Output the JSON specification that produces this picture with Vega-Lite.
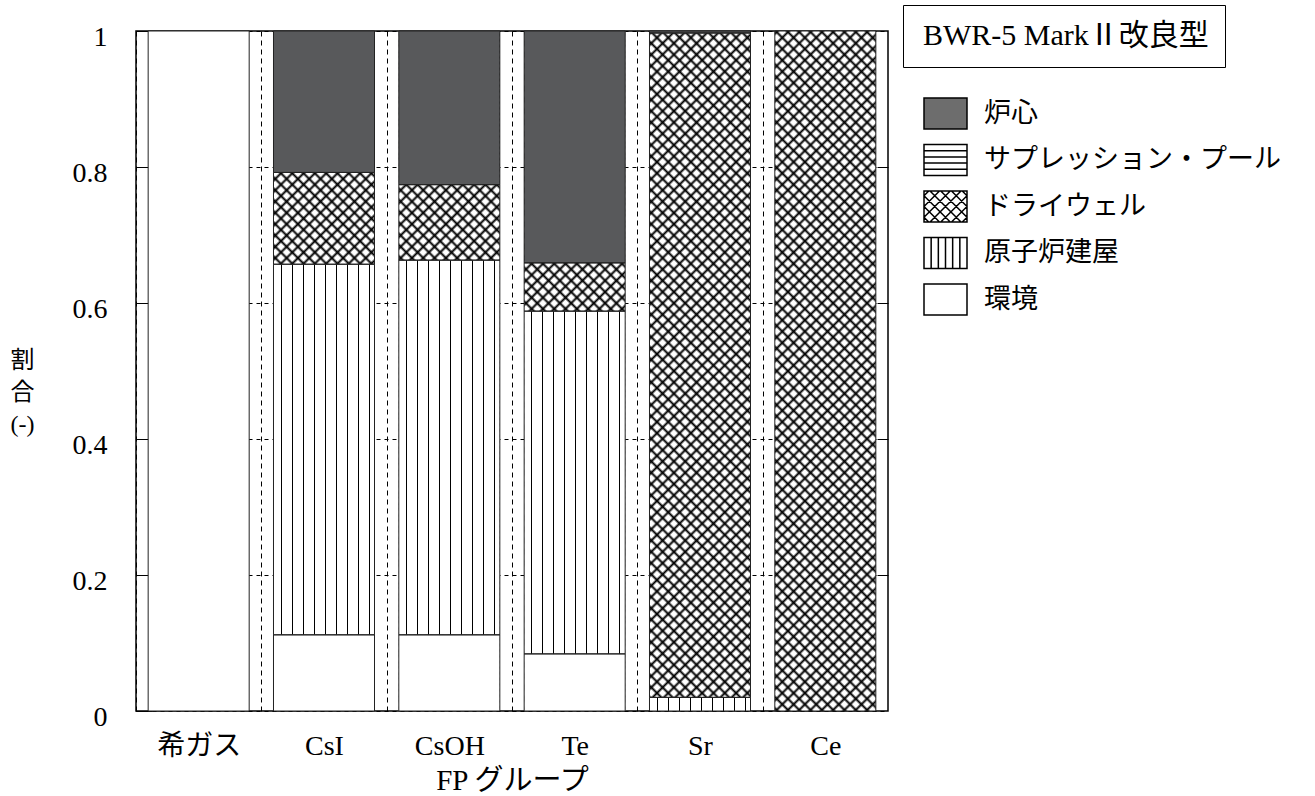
{
"$schema": "https://vega.github.io/schema/vega-lite/v6.json",
"width": 752, "height": 680,
"autosize": {"type": "none"},
"padding": {"left": 136, "top": 31, "right": 427, "bottom": 85},
"background": "white",
"config": {
  "font": "Liberation Serif, Noto Sans CJK JP",
  "view": {"stroke": "#000", "strokeWidth": 1.5},
  "axis": {"labelFont": "Liberation Serif, Noto Sans CJK JP", "titleFont": "Liberation Serif, Noto Sans CJK JP", "labelColor": "#000", "titleColor": "#000", "titleFontWeight": "normal"},
  "legend": {"labelFont": "Liberation Serif, Noto Sans CJK JP", "labelColor": "#000", "labelLimit": 600}
},
"data": {"values": [
  {"cat": "希ガス", "comp": "環境", "v": 1},
  {"cat": "CsI", "comp": "環境", "v": 0.112},
  {"cat": "CsI", "comp": "原子炉建屋", "v": 0.545},
  {"cat": "CsI", "comp": "ドライウェル", "v": 0.135},
  {"cat": "CsI", "comp": "炉心", "v": 0.208},
  {"cat": "CsOH", "comp": "環境", "v": 0.112},
  {"cat": "CsOH", "comp": "原子炉建屋", "v": 0.551},
  {"cat": "CsOH", "comp": "ドライウェル", "v": 0.111},
  {"cat": "CsOH", "comp": "炉心", "v": 0.226},
  {"cat": "Te", "comp": "環境", "v": 0.084},
  {"cat": "Te", "comp": "原子炉建屋", "v": 0.504},
  {"cat": "Te", "comp": "ドライウェル", "v": 0.071},
  {"cat": "Te", "comp": "炉心", "v": 0.341},
  {"cat": "Sr", "comp": "原子炉建屋", "v": 0.02},
  {"cat": "Sr", "comp": "ドライウェル", "v": 0.977},
  {"cat": "Sr", "comp": "炉心", "v": 0.003},
  {"cat": "Ce", "comp": "ドライウェル", "v": 1}
]},
"transform": [{"stack": "v", "groupby": ["cat"], "as": ["y0", "y1"]}],
"layer": [
  {
    "transform": [{"filter": "datum.comp === 'ドライウェル'"}],
    "mark": {"type": "bar", "fill": "#fff"},
    "encoding": {
      "x": {"field": "cat", "type": "nominal", "scale": {"domain": ["希ガス", "CsI", "CsOH", "Te", "Sr", "Ce"], "paddingInner": 0.194, "paddingOuter": 0.097}},
      "y": {"datum": 0, "type": "quantitative", "axis": null},
      "y2": {"datum": 1}
    }
  },
  {
    "transform": [{"filter": "datum.comp === 'ドライウェル'"}],
    "mark": {"type": "bar", "fill": {"gradient": "linear", "x1": 0, "y1": 0, "x2": 0.24149, "y2": 1.62588, "stops": [
{"offset":0,"color":"transparent"},{"offset":0.0025,"color":"#000"},{"offset":0.005,"color":"transparent"},
{"offset":0.01,"color":"transparent"},{"offset":0.0125,"color":"#000"},{"offset":0.015,"color":"transparent"},
{"offset":0.02,"color":"transparent"},{"offset":0.0225,"color":"#000"},{"offset":0.025,"color":"transparent"},
{"offset":0.03,"color":"transparent"},{"offset":0.0325,"color":"#000"},{"offset":0.035,"color":"transparent"},
{"offset":0.04,"color":"transparent"},{"offset":0.0425,"color":"#000"},{"offset":0.045,"color":"transparent"},
{"offset":0.05,"color":"transparent"},{"offset":0.0525,"color":"#000"},{"offset":0.055,"color":"transparent"},
{"offset":0.06,"color":"transparent"},{"offset":0.0625,"color":"#000"},{"offset":0.065,"color":"transparent"},
{"offset":0.07,"color":"transparent"},{"offset":0.0725,"color":"#000"},{"offset":0.075,"color":"transparent"},
{"offset":0.08,"color":"transparent"},{"offset":0.0825,"color":"#000"},{"offset":0.085,"color":"transparent"},
{"offset":0.09,"color":"transparent"},{"offset":0.0925,"color":"#000"},{"offset":0.095,"color":"transparent"},
{"offset":0.1,"color":"transparent"},{"offset":0.1025,"color":"#000"},{"offset":0.105,"color":"transparent"},
{"offset":0.11,"color":"transparent"},{"offset":0.1125,"color":"#000"},{"offset":0.115,"color":"transparent"},
{"offset":0.12,"color":"transparent"},{"offset":0.1225,"color":"#000"},{"offset":0.125,"color":"transparent"},
{"offset":0.13,"color":"transparent"},{"offset":0.1325,"color":"#000"},{"offset":0.135,"color":"transparent"},
{"offset":0.14,"color":"transparent"},{"offset":0.1425,"color":"#000"},{"offset":0.145,"color":"transparent"},
{"offset":0.15,"color":"transparent"},{"offset":0.1525,"color":"#000"},{"offset":0.155,"color":"transparent"},
{"offset":0.16,"color":"transparent"},{"offset":0.1625,"color":"#000"},{"offset":0.165,"color":"transparent"},
{"offset":0.17,"color":"transparent"},{"offset":0.1725,"color":"#000"},{"offset":0.175,"color":"transparent"},
{"offset":0.18,"color":"transparent"},{"offset":0.1825,"color":"#000"},{"offset":0.185,"color":"transparent"},
{"offset":0.19,"color":"transparent"},{"offset":0.1925,"color":"#000"},{"offset":0.195,"color":"transparent"},
{"offset":0.2,"color":"transparent"},{"offset":0.2025,"color":"#000"},{"offset":0.205,"color":"transparent"},
{"offset":0.21,"color":"transparent"},{"offset":0.2125,"color":"#000"},{"offset":0.215,"color":"transparent"},
{"offset":0.22,"color":"transparent"},{"offset":0.2225,"color":"#000"},{"offset":0.225,"color":"transparent"},
{"offset":0.23,"color":"transparent"},{"offset":0.2325,"color":"#000"},{"offset":0.235,"color":"transparent"},
{"offset":0.24,"color":"transparent"},{"offset":0.2425,"color":"#000"},{"offset":0.245,"color":"transparent"},
{"offset":0.25,"color":"transparent"},{"offset":0.2525,"color":"#000"},{"offset":0.255,"color":"transparent"},
{"offset":0.26,"color":"transparent"},{"offset":0.2625,"color":"#000"},{"offset":0.265,"color":"transparent"},
{"offset":0.27,"color":"transparent"},{"offset":0.2725,"color":"#000"},{"offset":0.275,"color":"transparent"},
{"offset":0.28,"color":"transparent"},{"offset":0.2825,"color":"#000"},{"offset":0.285,"color":"transparent"},
{"offset":0.29,"color":"transparent"},{"offset":0.2925,"color":"#000"},{"offset":0.295,"color":"transparent"},
{"offset":0.3,"color":"transparent"},{"offset":0.3025,"color":"#000"},{"offset":0.305,"color":"transparent"},
{"offset":0.31,"color":"transparent"},{"offset":0.3125,"color":"#000"},{"offset":0.315,"color":"transparent"},
{"offset":0.32,"color":"transparent"},{"offset":0.3225,"color":"#000"},{"offset":0.325,"color":"transparent"},
{"offset":0.33,"color":"transparent"},{"offset":0.3325,"color":"#000"},{"offset":0.335,"color":"transparent"},
{"offset":0.34,"color":"transparent"},{"offset":0.3425,"color":"#000"},{"offset":0.345,"color":"transparent"},
{"offset":0.35,"color":"transparent"},{"offset":0.3525,"color":"#000"},{"offset":0.355,"color":"transparent"},
{"offset":0.36,"color":"transparent"},{"offset":0.3625,"color":"#000"},{"offset":0.365,"color":"transparent"},
{"offset":0.37,"color":"transparent"},{"offset":0.3725,"color":"#000"},{"offset":0.375,"color":"transparent"},
{"offset":0.38,"color":"transparent"},{"offset":0.3825,"color":"#000"},{"offset":0.385,"color":"transparent"},
{"offset":0.39,"color":"transparent"},{"offset":0.3925,"color":"#000"},{"offset":0.395,"color":"transparent"},
{"offset":0.4,"color":"transparent"},{"offset":0.4025,"color":"#000"},{"offset":0.405,"color":"transparent"},
{"offset":0.41,"color":"transparent"},{"offset":0.4125,"color":"#000"},{"offset":0.415,"color":"transparent"},
{"offset":0.42,"color":"transparent"},{"offset":0.4225,"color":"#000"},{"offset":0.425,"color":"transparent"},
{"offset":0.43,"color":"transparent"},{"offset":0.4325,"color":"#000"},{"offset":0.435,"color":"transparent"},
{"offset":0.44,"color":"transparent"},{"offset":0.4425,"color":"#000"},{"offset":0.445,"color":"transparent"},
{"offset":0.45,"color":"transparent"},{"offset":0.4525,"color":"#000"},{"offset":0.455,"color":"transparent"},
{"offset":0.46,"color":"transparent"},{"offset":0.4625,"color":"#000"},{"offset":0.465,"color":"transparent"},
{"offset":0.47,"color":"transparent"},{"offset":0.4725,"color":"#000"},{"offset":0.475,"color":"transparent"},
{"offset":0.48,"color":"transparent"},{"offset":0.4825,"color":"#000"},{"offset":0.485,"color":"transparent"},
{"offset":0.49,"color":"transparent"},{"offset":0.4925,"color":"#000"},{"offset":0.495,"color":"transparent"},
{"offset":0.5,"color":"transparent"},{"offset":0.5025,"color":"#000"},{"offset":0.505,"color":"transparent"},
{"offset":0.51,"color":"transparent"},{"offset":0.5125,"color":"#000"},{"offset":0.515,"color":"transparent"},
{"offset":0.52,"color":"transparent"},{"offset":0.5225,"color":"#000"},{"offset":0.525,"color":"transparent"},
{"offset":0.53,"color":"transparent"},{"offset":0.5325,"color":"#000"},{"offset":0.535,"color":"transparent"},
{"offset":0.54,"color":"transparent"},{"offset":0.5425,"color":"#000"},{"offset":0.545,"color":"transparent"},
{"offset":0.55,"color":"transparent"},{"offset":0.5525,"color":"#000"},{"offset":0.555,"color":"transparent"},
{"offset":0.56,"color":"transparent"},{"offset":0.5625,"color":"#000"},{"offset":0.565,"color":"transparent"},
{"offset":0.57,"color":"transparent"},{"offset":0.5725,"color":"#000"},{"offset":0.575,"color":"transparent"},
{"offset":0.58,"color":"transparent"},{"offset":0.5825,"color":"#000"},{"offset":0.585,"color":"transparent"},
{"offset":0.59,"color":"transparent"},{"offset":0.5925,"color":"#000"},{"offset":0.595,"color":"transparent"},
{"offset":0.6,"color":"transparent"},{"offset":0.6025,"color":"#000"},{"offset":0.605,"color":"transparent"},
{"offset":0.61,"color":"transparent"},{"offset":0.6125,"color":"#000"},{"offset":0.615,"color":"transparent"},
{"offset":0.62,"color":"transparent"},{"offset":0.6225,"color":"#000"},{"offset":0.625,"color":"transparent"},
{"offset":0.63,"color":"transparent"},{"offset":0.6325,"color":"#000"},{"offset":0.635,"color":"transparent"},
{"offset":0.64,"color":"transparent"},{"offset":0.6425,"color":"#000"},{"offset":0.645,"color":"transparent"},
{"offset":0.65,"color":"transparent"},{"offset":0.6525,"color":"#000"},{"offset":0.655,"color":"transparent"},
{"offset":0.66,"color":"transparent"},{"offset":0.6625,"color":"#000"},{"offset":0.665,"color":"transparent"},
{"offset":0.67,"color":"transparent"},{"offset":0.6725,"color":"#000"},{"offset":0.675,"color":"transparent"},
{"offset":0.68,"color":"transparent"},{"offset":0.6825,"color":"#000"},{"offset":0.685,"color":"transparent"},
{"offset":0.69,"color":"transparent"},{"offset":0.6925,"color":"#000"},{"offset":0.695,"color":"transparent"}
    ]}},
    "encoding": {
      "x": {"field": "cat", "type": "nominal"},
      "y": {"datum": 0, "type": "quantitative", "axis": null},
      "y2": {"datum": 1}
    }
  },
  {
    "transform": [{"filter": "datum.comp === 'ドライウェル'"}],
    "mark": {"type": "bar", "fill": {"gradient": "linear", "x1": 0, "y1": 1, "x2": 0.24149, "y2": -0.62588, "stops": [
{"offset":0,"color":"transparent"},{"offset":0.0025,"color":"#000"},{"offset":0.005,"color":"transparent"},
{"offset":0.01,"color":"transparent"},{"offset":0.0125,"color":"#000"},{"offset":0.015,"color":"transparent"},
{"offset":0.02,"color":"transparent"},{"offset":0.0225,"color":"#000"},{"offset":0.025,"color":"transparent"},
{"offset":0.03,"color":"transparent"},{"offset":0.0325,"color":"#000"},{"offset":0.035,"color":"transparent"},
{"offset":0.04,"color":"transparent"},{"offset":0.0425,"color":"#000"},{"offset":0.045,"color":"transparent"},
{"offset":0.05,"color":"transparent"},{"offset":0.0525,"color":"#000"},{"offset":0.055,"color":"transparent"},
{"offset":0.06,"color":"transparent"},{"offset":0.0625,"color":"#000"},{"offset":0.065,"color":"transparent"},
{"offset":0.07,"color":"transparent"},{"offset":0.0725,"color":"#000"},{"offset":0.075,"color":"transparent"},
{"offset":0.08,"color":"transparent"},{"offset":0.0825,"color":"#000"},{"offset":0.085,"color":"transparent"},
{"offset":0.09,"color":"transparent"},{"offset":0.0925,"color":"#000"},{"offset":0.095,"color":"transparent"},
{"offset":0.1,"color":"transparent"},{"offset":0.1025,"color":"#000"},{"offset":0.105,"color":"transparent"},
{"offset":0.11,"color":"transparent"},{"offset":0.1125,"color":"#000"},{"offset":0.115,"color":"transparent"},
{"offset":0.12,"color":"transparent"},{"offset":0.1225,"color":"#000"},{"offset":0.125,"color":"transparent"},
{"offset":0.13,"color":"transparent"},{"offset":0.1325,"color":"#000"},{"offset":0.135,"color":"transparent"},
{"offset":0.14,"color":"transparent"},{"offset":0.1425,"color":"#000"},{"offset":0.145,"color":"transparent"},
{"offset":0.15,"color":"transparent"},{"offset":0.1525,"color":"#000"},{"offset":0.155,"color":"transparent"},
{"offset":0.16,"color":"transparent"},{"offset":0.1625,"color":"#000"},{"offset":0.165,"color":"transparent"},
{"offset":0.17,"color":"transparent"},{"offset":0.1725,"color":"#000"},{"offset":0.175,"color":"transparent"},
{"offset":0.18,"color":"transparent"},{"offset":0.1825,"color":"#000"},{"offset":0.185,"color":"transparent"},
{"offset":0.19,"color":"transparent"},{"offset":0.1925,"color":"#000"},{"offset":0.195,"color":"transparent"},
{"offset":0.2,"color":"transparent"},{"offset":0.2025,"color":"#000"},{"offset":0.205,"color":"transparent"},
{"offset":0.21,"color":"transparent"},{"offset":0.2125,"color":"#000"},{"offset":0.215,"color":"transparent"},
{"offset":0.22,"color":"transparent"},{"offset":0.2225,"color":"#000"},{"offset":0.225,"color":"transparent"},
{"offset":0.23,"color":"transparent"},{"offset":0.2325,"color":"#000"},{"offset":0.235,"color":"transparent"},
{"offset":0.24,"color":"transparent"},{"offset":0.2425,"color":"#000"},{"offset":0.245,"color":"transparent"},
{"offset":0.25,"color":"transparent"},{"offset":0.2525,"color":"#000"},{"offset":0.255,"color":"transparent"},
{"offset":0.26,"color":"transparent"},{"offset":0.2625,"color":"#000"},{"offset":0.265,"color":"transparent"},
{"offset":0.27,"color":"transparent"},{"offset":0.2725,"color":"#000"},{"offset":0.275,"color":"transparent"},
{"offset":0.28,"color":"transparent"},{"offset":0.2825,"color":"#000"},{"offset":0.285,"color":"transparent"},
{"offset":0.29,"color":"transparent"},{"offset":0.2925,"color":"#000"},{"offset":0.295,"color":"transparent"},
{"offset":0.3,"color":"transparent"},{"offset":0.3025,"color":"#000"},{"offset":0.305,"color":"transparent"},
{"offset":0.31,"color":"transparent"},{"offset":0.3125,"color":"#000"},{"offset":0.315,"color":"transparent"},
{"offset":0.32,"color":"transparent"},{"offset":0.3225,"color":"#000"},{"offset":0.325,"color":"transparent"},
{"offset":0.33,"color":"transparent"},{"offset":0.3325,"color":"#000"},{"offset":0.335,"color":"transparent"},
{"offset":0.34,"color":"transparent"},{"offset":0.3425,"color":"#000"},{"offset":0.345,"color":"transparent"},
{"offset":0.35,"color":"transparent"},{"offset":0.3525,"color":"#000"},{"offset":0.355,"color":"transparent"},
{"offset":0.36,"color":"transparent"},{"offset":0.3625,"color":"#000"},{"offset":0.365,"color":"transparent"},
{"offset":0.37,"color":"transparent"},{"offset":0.3725,"color":"#000"},{"offset":0.375,"color":"transparent"},
{"offset":0.38,"color":"transparent"},{"offset":0.3825,"color":"#000"},{"offset":0.385,"color":"transparent"},
{"offset":0.39,"color":"transparent"},{"offset":0.3925,"color":"#000"},{"offset":0.395,"color":"transparent"},
{"offset":0.4,"color":"transparent"},{"offset":0.4025,"color":"#000"},{"offset":0.405,"color":"transparent"},
{"offset":0.41,"color":"transparent"},{"offset":0.4125,"color":"#000"},{"offset":0.415,"color":"transparent"},
{"offset":0.42,"color":"transparent"},{"offset":0.4225,"color":"#000"},{"offset":0.425,"color":"transparent"},
{"offset":0.43,"color":"transparent"},{"offset":0.4325,"color":"#000"},{"offset":0.435,"color":"transparent"},
{"offset":0.44,"color":"transparent"},{"offset":0.4425,"color":"#000"},{"offset":0.445,"color":"transparent"},
{"offset":0.45,"color":"transparent"},{"offset":0.4525,"color":"#000"},{"offset":0.455,"color":"transparent"},
{"offset":0.46,"color":"transparent"},{"offset":0.4625,"color":"#000"},{"offset":0.465,"color":"transparent"},
{"offset":0.47,"color":"transparent"},{"offset":0.4725,"color":"#000"},{"offset":0.475,"color":"transparent"},
{"offset":0.48,"color":"transparent"},{"offset":0.4825,"color":"#000"},{"offset":0.485,"color":"transparent"},
{"offset":0.49,"color":"transparent"},{"offset":0.4925,"color":"#000"},{"offset":0.495,"color":"transparent"},
{"offset":0.5,"color":"transparent"},{"offset":0.5025,"color":"#000"},{"offset":0.505,"color":"transparent"},
{"offset":0.51,"color":"transparent"},{"offset":0.5125,"color":"#000"},{"offset":0.515,"color":"transparent"},
{"offset":0.52,"color":"transparent"},{"offset":0.5225,"color":"#000"},{"offset":0.525,"color":"transparent"},
{"offset":0.53,"color":"transparent"},{"offset":0.5325,"color":"#000"},{"offset":0.535,"color":"transparent"},
{"offset":0.54,"color":"transparent"},{"offset":0.5425,"color":"#000"},{"offset":0.545,"color":"transparent"},
{"offset":0.55,"color":"transparent"},{"offset":0.5525,"color":"#000"},{"offset":0.555,"color":"transparent"},
{"offset":0.56,"color":"transparent"},{"offset":0.5625,"color":"#000"},{"offset":0.565,"color":"transparent"},
{"offset":0.57,"color":"transparent"},{"offset":0.5725,"color":"#000"},{"offset":0.575,"color":"transparent"},
{"offset":0.58,"color":"transparent"},{"offset":0.5825,"color":"#000"},{"offset":0.585,"color":"transparent"},
{"offset":0.59,"color":"transparent"},{"offset":0.5925,"color":"#000"},{"offset":0.595,"color":"transparent"},
{"offset":0.6,"color":"transparent"},{"offset":0.6025,"color":"#000"},{"offset":0.605,"color":"transparent"},
{"offset":0.61,"color":"transparent"},{"offset":0.6125,"color":"#000"},{"offset":0.615,"color":"transparent"},
{"offset":0.62,"color":"transparent"},{"offset":0.6225,"color":"#000"},{"offset":0.625,"color":"transparent"},
{"offset":0.63,"color":"transparent"},{"offset":0.6325,"color":"#000"},{"offset":0.635,"color":"transparent"},
{"offset":0.64,"color":"transparent"},{"offset":0.6425,"color":"#000"},{"offset":0.645,"color":"transparent"},
{"offset":0.65,"color":"transparent"},{"offset":0.6525,"color":"#000"},{"offset":0.655,"color":"transparent"},
{"offset":0.66,"color":"transparent"},{"offset":0.6625,"color":"#000"},{"offset":0.665,"color":"transparent"},
{"offset":0.67,"color":"transparent"},{"offset":0.6725,"color":"#000"},{"offset":0.675,"color":"transparent"},
{"offset":0.68,"color":"transparent"},{"offset":0.6825,"color":"#000"},{"offset":0.685,"color":"transparent"},
{"offset":0.69,"color":"transparent"},{"offset":0.6925,"color":"#000"},{"offset":0.695,"color":"transparent"}
    ]}},
    "encoding": {
      "x": {"field": "cat", "type": "nominal"},
      "y": {"datum": 0, "type": "quantitative", "axis": null},
      "y2": {"datum": 1}
    }
  },
  {
    "transform": [{"filter": "datum.comp === '環境' || datum.comp === '原子炉建屋'"}],
    "mark": {"type": "bar", "fill": "#fff"},
    "encoding": {
      "x": {"field": "cat", "type": "nominal", "axis": {"orient": "bottom", "title": "FP グループ", "titleFontSize": 29, "titlePadding": 6, "labelFontSize": 28, "labelPadding": 35, "labelAngle": 0, "labelAlign": "center", "ticks": false, "domain": false, "grid": true, "gridDash": [5, 4], "gridColor": "#000", "gridOpacity": 1, "gridWidth": 1, "bandPosition": 0, "tickOffset": -12.15, "labelOffset": 12.15}},
      "y": {"field": "y1", "type": "quantitative", "scale": {"domain": [0, 1], "nice": false},
        "axis": {"orient": "left", "values": [0, 0.2, 0.4, 0.6, 0.8, 1], "format": "~g", "grid": true, "gridDash": [4, 4], "gridColor": "#000", "gridOpacity": 1, "gridWidth": 1, "domain": false, "ticks": true, "tickSize": -16, "tickColor": "#000", "tickWidth": 1, "labelFontSize": 28, "labelPadding": 45, "labelOffset": 6, "title": ["割", "合", "(-)"], "titleAngle": 0, "titleFontSize": 24, "titleLineHeight": 32, "titleX": -114, "titleY": 329, "titleAlign": "center", "titleBaseline": "middle"}},
      "y2": {"field": "y0"}
    }
  },
  {
    "transform": [{"filter": "datum.comp === '原子炉建屋'"}],
    "mark": {"type": "bar", "fill": {"gradient": "linear", "x1": 0, "y1": 0, "x2": 1, "y2": 0, "stops": [
{"offset":0,"color":"transparent"},
{"offset":0.0712,"color":"transparent"},{"offset":0.0712,"color":"#000"},{"offset":0.0808,"color":"#000"},{"offset":0.0808,"color":"transparent"},
{"offset":0.1802,"color":"transparent"},{"offset":0.1802,"color":"#000"},{"offset":0.1898,"color":"#000"},{"offset":0.1898,"color":"transparent"},
{"offset":0.2892,"color":"transparent"},{"offset":0.2892,"color":"#000"},{"offset":0.2988,"color":"#000"},{"offset":0.2988,"color":"transparent"},
{"offset":0.3982,"color":"transparent"},{"offset":0.3982,"color":"#000"},{"offset":0.4078,"color":"#000"},{"offset":0.4078,"color":"transparent"},
{"offset":0.5072,"color":"transparent"},{"offset":0.5072,"color":"#000"},{"offset":0.5168,"color":"#000"},{"offset":0.5168,"color":"transparent"},
{"offset":0.6162,"color":"transparent"},{"offset":0.6162,"color":"#000"},{"offset":0.6258,"color":"#000"},{"offset":0.6258,"color":"transparent"},
{"offset":0.7252,"color":"transparent"},{"offset":0.7252,"color":"#000"},{"offset":0.7348,"color":"#000"},{"offset":0.7348,"color":"transparent"},
{"offset":0.8342,"color":"transparent"},{"offset":0.8342,"color":"#000"},{"offset":0.8438,"color":"#000"},{"offset":0.8438,"color":"transparent"},
{"offset":0.9432,"color":"transparent"},{"offset":0.9432,"color":"#000"},{"offset":0.9528,"color":"#000"},{"offset":0.9528,"color":"transparent"},
{"offset":1,"color":"transparent"}
    ]}},
    "encoding": {
      "x": {"field": "cat", "type": "nominal"},
      "y": {"field": "y1", "type": "quantitative", "axis": null},
      "y2": {"field": "y0"}
    }
  },
  {
    "transform": [{"filter": "datum.comp === '炉心'"}],
    "mark": {"type": "bar", "fill": "#58595b"},
    "encoding": {
      "x": {"field": "cat", "type": "nominal"},
      "y": {"field": "y1", "type": "quantitative", "axis": null},
      "y2": {"field": "y0"}
    }
  },
  {
    "mark": {"type": "bar", "fill": "transparent", "stroke": "#222", "strokeWidth": 1},
    "encoding": {
      "x": {"field": "cat", "type": "nominal"},
      "y": {"field": "y1", "type": "quantitative", "axis": {"orient": "right", "values": [0.2, 0.4, 0.6, 0.8], "grid": false, "domain": false, "labels": false, "ticks": true, "tickSize": -11, "tickColor": "#000", "tickWidth": 1, "title": null}},
      "y2": {"field": "y0"}
    }
  },
  {
    "data": {"values": [{"comp": "炉心"}, {"comp": "サプレッション・プール"}, {"comp": "ドライウェル"}, {"comp": "原子炉建屋"}, {"comp": "環境"}]},
    "mark": {"type": "point", "filled": true, "opacity": 0},
    "encoding": {
      "fill": {"field": "comp", "type": "nominal",
        "scale": {"domain": ["炉心", "サプレッション・プール", "ドライウェル", "原子炉建屋", "環境"], "range": ["#6d6d6d", "#ffffff", "#ffffff", "#ffffff", "#ffffff"]},
        "legend": {"title": null, "orient": "none", "legendX": 787, "legendY": 60, "symbolSize": 1849, "symbolStrokeWidth": 1.5, "symbolOpacity": 1, "labelFontSize": 27, "labelOffset": 16, "rowPadding": 5.5, "padding": 0}},
      "stroke": {"field": "comp", "type": "nominal",
        "scale": {"domain": ["炉心", "サプレッション・プール", "ドライウェル", "原子炉建屋", "環境"], "range": ["#000000", "#000000", "#000000", "#000000", "#000000"]},
        "legend": {"title": null, "orient": "none", "legendX": 787, "legendY": 60, "symbolSize": 1849, "symbolStrokeWidth": 1.5, "symbolOpacity": 1, "labelFontSize": 27, "labelOffset": 16, "rowPadding": 5.5, "padding": 0}},
      "shape": {"field": "comp", "type": "nominal",
        "scale": {"domain": ["炉心", "サプレッション・プール", "ドライウェル", "原子炉建屋", "環境"], "range": [
          "M-1,-0.72H1V0.72H-1Z",
          "M-1,-0.72H1V0.72H-1Z M-1,-0.432H1 M-1,-0.144H1 M-1,0.144H1 M-1,0.432H1",
          "M-1,-0.72H1V0.72H-1Z M-1,0.5L-0.78,0.72 M-1,0L-0.28,0.72 M-1,-0.5L0.22,0.72 M-0.72,-0.72L0.72,0.72 M-0.22,-0.72L1,0.5 M0.28,-0.72L1,0 M0.78,-0.72L1,-0.5 M1,0.5L0.78,0.72 M1,0L0.28,0.72 M1,-0.5L-0.22,0.72 M0.72,-0.72L-0.72,0.72 M0.22,-0.72L-1,0.5 M-0.28,-0.72L-1,0 M-0.78,-0.72L-1,-0.5",
          "M-1,-0.72H1V0.72H-1Z M-0.667,-0.72V0.72 M-0.333,-0.72V0.72 M0,-0.72V0.72 M0.333,-0.72V0.72 M0.667,-0.72V0.72",
          "M-1,-0.72H1V0.72H-1Z"]},
        "legend": {"title": null, "orient": "none", "legendX": 787, "legendY": 60, "symbolSize": 1849, "symbolStrokeWidth": 1.5, "symbolOpacity": 1, "labelFontSize": 27, "labelOffset": 16, "rowPadding": 5.5, "padding": 0}}
    }
  },
  {
    "data": {"values": [{"model": "BWR-5 MarkⅡ改良型"}]},
    "mark": {"type": "point", "opacity": 0},
    "encoding": {
      "strokeDash": {"field": "model", "type": "nominal",
        "legend": {"title": null, "orient": "none", "legendX": 767, "legendY": -26, "symbolSize": 0, "symbolOpacity": 0, "symbolStrokeWidth": 0, "labelOffset": -26, "labelFontSize": 30, "padding": 16, "strokeColor": "#000"}}
    }
  }
],
"resolve": {"axis": {"y": "independent"}}
}
